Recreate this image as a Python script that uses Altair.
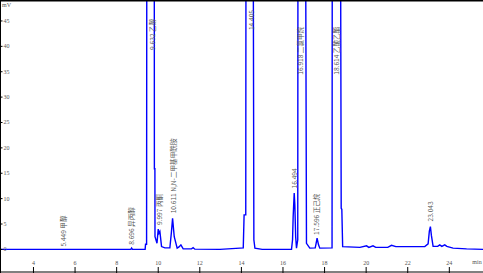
import altair as alt
import pandas as pd

# ---- chromatogram trace (retention time, min / signal, mV) ----
time_min = [2.39, 8.68, 8.72, 8.76, 9.37, 9.39, 9.44, 9.45, 9.63, 9.81, 9.815, 9.84, 9.845,
            9.94, 10.00, 10.04, 10.08, 10.16, 10.32, 10.56, 10.63, 10.69, 10.77, 10.91,
            11.00, 11.09, 11.20, 11.60, 11.68, 11.76, 12.97, 13.93, 14.09, 14.13, 14.21,
            14.22, 14.40, 14.57, 14.60, 14.65, 15.00, 16.41, 16.46, 16.49, 16.54, 16.57,
            16.61, 16.65, 16.71, 16.72, 16.90, 17.09, 17.13, 17.29, 17.55, 17.58, 17.64,
            17.71, 17.77, 18.36, 18.37, 18.58, 18.77, 18.80, 18.83, 18.87, 19.70, 20.02,
            20.13, 20.33, 20.46, 21.04, 21.22, 21.43, 22.82, 22.98, 23.04, 23.09, 23.14,
            23.22, 23.44, 23.54, 23.64, 23.78, 23.88, 24.18, 24.83, 25.62]
signal_mv = [0.0, 0.0, 0.25, 0.0, 0.0, 1.0, 1.0, 60, 900, 60, 15.9, 15.9, 2.5,
             1.2, 4.0, 3.2, 3.5, 0.55, 0.3, 0.3, 3.2, 6.1, 2.5, 0.25,
             0.5, 0.9, 0.1, 0.1, 0.35, 0.05, 0.0, 0.25, 0.3, 6.8, 6.8,
             60, 800, 60, 1.9, 0.25, 0.0, 0.0, 1.9, 6.5, 11.1, 8.8,
             2.5, 0.25, 1.9, 60, 600, 60, 1.2, 0.25, 0.3, 0.9, 2.2,
             0.9, 0.25, 0.3, 60, 800, 60, 8.1, 7.9, 0.55, 0.4, 0.7,
             0.4, 0.7, 0.4, 0.4, 0.8, 0.55, 0.55, 1.1, 3.6, 4.5, 2.7,
             0.6, 0.6, 0.9, 0.6, 0.9, 0.6, 0.25, 0.1, 0.0]

# ---- peak annotations ----
peak_rt = [5.48, 8.72, 9.76, 10.08, 10.77, 14.49, 16.57, 16.89, 17.64, 18.61, 23.10]
peak_text = ["5.449 甲醇", "8.696 异丙醇", "9.632 乙醇", "9.997 丙酮",
             "10.611 N,N-二甲基甲酰胺", "14.405", "16.494", "16.918 二氯甲烷",
             "17.596 正己烷", "18.614 乙酸乙酯", "23.043"]
peak_text_base = [0.55, 0.9, 39.3, 4.8, 7.1, 43.2, 12.0, 34.4, 2.85, 34.4, 5.5]

# ---- axes ----
y_ticks = [0, 5, 10, 15, 20, 25, 30, 35, 40, 45]
x_ticks = [4, 6, 8, 10, 12, 14, 16, 18, 20, 22, 24]

xs = alt.Scale(domain=[2.39, 25.62], nice=False, zero=False)
ys = alt.Scale(domain=[-4.65, 49.13], nice=False, zero=False)

trace = pd.DataFrame({"t": time_min, "v": signal_mv, "i": list(range(len(time_min)))})
peaks = pd.DataFrame({"t": peak_rt, "v": peak_text_base, "label": peak_text})
yt = pd.DataFrame({"v": y_ticks, "label": [str(v) for v in y_ticks]})
xt = pd.DataFrame({"t": x_ticks, "label": [str(v) for v in x_ticks]})
one = pd.DataFrame({"d": [0]})

line = alt.Chart(trace).mark_line(color="#0000ff", strokeWidth=1.4, clip=True).encode(
    x=alt.X("t:Q", scale=xs, axis=None),
    y=alt.Y("v:Q", scale=ys, axis=None),
    order="i:Q",
)

labels = alt.Chart(peaks).mark_text(
    angle=270, align="left", baseline="middle", fontSize=6.6,
    font="Noto Sans CJK SC", color="#555555"
).encode(
    x=alt.X("t:Q", scale=xs, axis=None),
    y=alt.Y("v:Q", scale=ys, axis=None),
    text="label:N",
)

ytick_marks = alt.Chart(yt).mark_rule(color="black", strokeWidth=1).encode(
    x=alt.value(0), x2=alt.value(2.5),
    y=alt.Y("v:Q", scale=ys, axis=None),
)
ytick_text = alt.Chart(yt).mark_text(
    align="left", baseline="middle", fontSize=6, font="Liberation Serif", color="#555555"
).encode(
    x=alt.value(3.5),
    y=alt.Y("v:Q", scale=ys, axis=None),
    text="label:N",
)
xtick_marks = alt.Chart(xt).mark_rule(color="black", strokeWidth=1).encode(
    x=alt.X("t:Q", scale=xs, axis=None),
    y=alt.value(267), y2=alt.value(273),
)
xtick_text = alt.Chart(xt).mark_text(
    align="center", baseline="middle", fontSize=6, font="Liberation Serif", color="#555555"
).encode(
    x=alt.X("t:Q", scale=xs, axis=None),
    y=alt.value(263),
    text="label:N",
)

unit_mv = alt.Chart(one).mark_text(
    text="mV", align="left", baseline="middle", fontSize=6, font="Liberation Serif", color="#555555"
).encode(x=alt.value(2), y=alt.value(5))
unit_min = alt.Chart(one).mark_text(
    text="min", align="center", baseline="middle", fontSize=6, font="Liberation Serif", color="#555555"
).encode(x=alt.value(477), y=alt.value(262))

top_border = alt.Chart(one).mark_rule(color="black", strokeWidth=1.5).encode(
    x=alt.value(0), x2=alt.value(483), y=alt.value(0.75))
left_border = alt.Chart(one).mark_rule(color="black", strokeWidth=1).encode(
    x=alt.value(0.5), y=alt.value(0), y2=alt.value(273))
bottom_border = alt.Chart(one).mark_rule(color="black", strokeWidth=1).encode(
    x=alt.value(0), x2=alt.value(483), y=alt.value(272))

chart = alt.layer(
    line, labels, ytick_marks, ytick_text, xtick_marks, xtick_text,
    unit_mv, unit_min, top_border, left_border, bottom_border
).properties(
    width=483, height=273, padding=0, autosize=alt.AutoSizeParams(type="none"),
    background="white"
).configure_view(stroke=None)

chart.save("out.html", embed_options={"renderer": "svg", "actions": False})
